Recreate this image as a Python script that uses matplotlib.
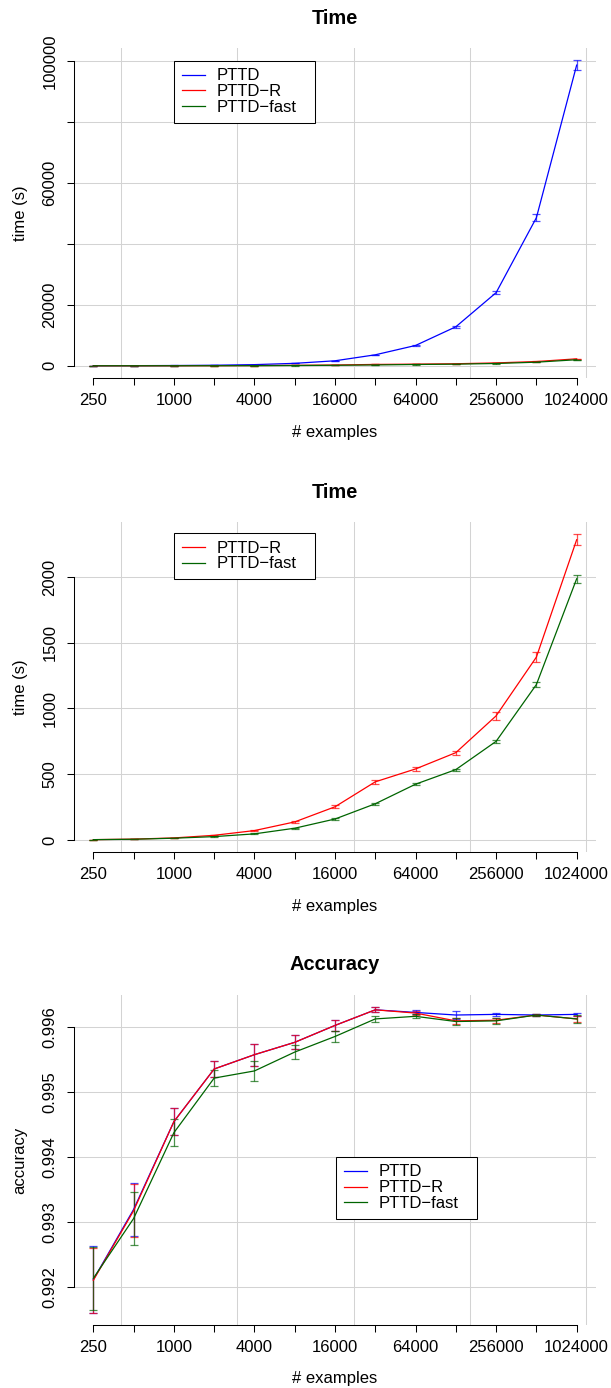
import matplotlib.pyplot as plt
import numpy as np

plt.rcParams['font.family'] = ['Liberation Sans', 'DejaVu Sans']
plt.rcParams['font.size'] = 12

n_examples = [250, 500, 1000, 2000, 4000, 8000, 16000, 32000,
              64000, 128000, 256000, 512000, 1024000]
x_tick_labels = ['250', '', '1000', '', '4000', '', '16000', '',
                 '64000', '', '256000', '', '1024000']

# training time in seconds (mean and error half-width)
time_pttd = [20, 40, 85, 180, 380, 800, 1640, 3600, 6670, 12800, 24000, 48600, 98700]
time_pttd_err = [5, 8, 10, 15, 30, 50, 80, 100, 150, 300, 500, 1100, 1600]
time_r = [2, 6, 15, 35, 71, 137, 252, 442, 540, 664, 944, 1391, 2284]
time_r_err = [1, 1, 2, 3, 5, 8, 10, 14, 14, 15, 29, 38, 42]
time_fast = [2, 5, 13, 25, 46, 89, 159, 275, 424, 535, 750, 1182, 1987]
time_fast_err = [1, 1, 1, 2, 3, 5, 7, 8, 6, 8, 12, 20, 30]

# accuracy (mean and error half-width)
acc_pttd = [0.99212, 0.99320, 0.99455, 0.99536, 0.99558, 0.99577, 0.99603,
            0.99627, 0.99623, 0.99619, 0.99620, 0.99619, 0.99620]
acc_pttd_err = [0.00051, 0.00041, 0.00021, 0.00013, 0.00017, 0.00011, 0.00009,
                0.00004, 0.00003, 0.00006, 0.00002, 0.00002, 0.00002]
acc_r = [0.99211, 0.99318, 0.99455, 0.99536, 0.99558, 0.99577, 0.99603,
         0.99627, 0.99622, 0.99610, 0.99611, 0.99619, 0.99613]
acc_r_err = [0.00050, 0.00041, 0.00021, 0.00013, 0.00017, 0.00011, 0.00009,
             0.00004, 0.00003, 0.00005, 0.00004, 0.00002, 0.00004]
acc_fast = [0.99214, 0.99306, 0.99438, 0.99522, 0.99533, 0.99562, 0.99586,
            0.99613, 0.99617, 0.99609, 0.99610, 0.99619, 0.99613]
acc_fast_err = [0.00048, 0.00041, 0.00021, 0.00012, 0.00016, 0.00011, 0.00009,
                0.00004, 0.00003, 0.00006, 0.00005, 0.00002, 0.00006]

FIG_W, FIG_H = 611, 1388
GRID_LN = [6, 8, 10, 12, 14]   # vertical grid at these natural-log positions


def padded(lo, hi, frac=0.04):
    span = hi - lo
    return lo - frac * span, hi + frac * span


def make_axes(fig, top_px, left=74, right=596, height=330):
    return fig.add_axes([left / FIG_W, 1 - (top_px + height) / FIG_H,
                         (right - left) / FIG_W, height / FIG_H])


def draw_panel(ax, series, title, ylabel, yticks, ytick_labels, legend_xy):
    x = np.array(n_examples, dtype=float)
    lo = min(np.min(np.array(m) - np.array(e)) for _, m, e, _ in series)
    hi = max(np.max(np.array(m) + np.array(e)) for _, m, e, _ in series)

    ax.set_xscale('log', base=2)
    ax.set_xlim(*np.exp(padded(np.log(x[0]), np.log(x[-1]))))
    ax.set_ylim(*padded(lo, hi))
    ax.set_autoscale_on(False)

    for g in np.exp(GRID_LN):
        ax.axvline(g, color='lightgray', lw=0.75, zorder=0)
    for t in yticks:
        ax.axhline(t, color='lightgray', lw=0.75, zorder=0)

    for label, mean, err, color in series:
        ax.errorbar(x, mean, yerr=err, fmt='none', ecolor=color, alpha=0.7,
                    elinewidth=0.9, capsize=2.8, capthick=0.9, zorder=2)
        ax.plot(x, mean, color=color, lw=0.9, label=label, zorder=3)

    for side in ('top', 'right'):
        ax.spines[side].set_visible(False)
    ax.spines['bottom'].set_bounds(x[0], x[-1])
    ax.spines['left'].set_bounds(yticks[0], yticks[-1])
    for side in ('bottom', 'left'):
        ax.spines[side].set_linewidth(0.75)

    ax.set_xticks(x)
    ax.set_xticklabels(x_tick_labels)
    ax.xaxis.set_minor_locator(plt.NullLocator())
    ax.set_yticks(yticks)
    ax.set_yticklabels(ytick_labels, rotation=90, va='center')
    ax.tick_params(direction='out', length=5, width=0.75, labelsize=12)
    ax.tick_params(axis='x', pad=5.5)
    ax.tick_params(axis='y', pad=7)

    ax.text(0.5, 1 + 30 / 330, title, transform=ax.transAxes, ha='center',
            va='center', fontsize=14.4, fontweight='bold')
    ax.set_xlabel('# examples', va='center')
    ax.xaxis.set_label_coords(0.5, -54 / 330)
    ax.set_ylabel(ylabel, va='center')
    ax.yaxis.set_label_coords((20 - 74) / 522, 0.5)

    # legend box stretched to a fixed width, entries kept at the left
    leg = ax.legend(loc='upper left', bbox_to_anchor=(legend_xy[0], legend_xy[1], 141 / 522, 0),
                    mode='expand', fancybox=False, edgecolor='black', framealpha=1,
                    borderaxespad=0, borderpad=0.45, labelspacing=0.05,
                    handlelength=1.4, handletextpad=0.7, fontsize=12)
    leg.get_frame().set_linewidth(0.75)


fig = plt.figure(figsize=(FIG_W / 100, FIG_H / 100), dpi=100)

ax1 = make_axes(fig, 48)
draw_panel(ax1,
           [('PTTD', time_pttd, time_pttd_err, 'blue'),
            ('PTTD\u2212R', time_r, time_r_err, 'red'),
            ('PTTD\u2212fast', time_fast, time_fast_err, 'darkgreen')],
           'Time', 'time (s)',
           [0, 20000, 40000, 60000, 80000, 100000],
           ['0', '20000', '', '60000', '', '100000'],
           ((174 - 74) / 522, (378 - 61) / 330))

ax2 = make_axes(fig, 522)
draw_panel(ax2,
           [('PTTD\u2212R', time_r, time_r_err, 'red'),
            ('PTTD\u2212fast', time_fast, time_fast_err, 'darkgreen')],
           'Time', 'time (s)',
           [0, 500, 1000, 1500, 2000],
           ['0', '500', '1000', '1500', '2000'],
           ((174 - 74) / 522, (852 - 533) / 330))

ax3 = make_axes(fig, 995)
draw_panel(ax3,
           [('PTTD', acc_pttd, acc_pttd_err, 'blue'),
            ('PTTD\u2212R', acc_r, acc_r_err, 'red'),
            ('PTTD\u2212fast', acc_fast, acc_fast_err, 'darkgreen')],
           'Accuracy', 'accuracy',
           [0.992, 0.993, 0.994, 0.995, 0.996],
           ['0.992', '0.993', '0.994', '0.995', '0.996'],
           ((336 - 74) / 522, (1325 - 1157) / 330))

fig.savefig('out.png', dpi=100)
